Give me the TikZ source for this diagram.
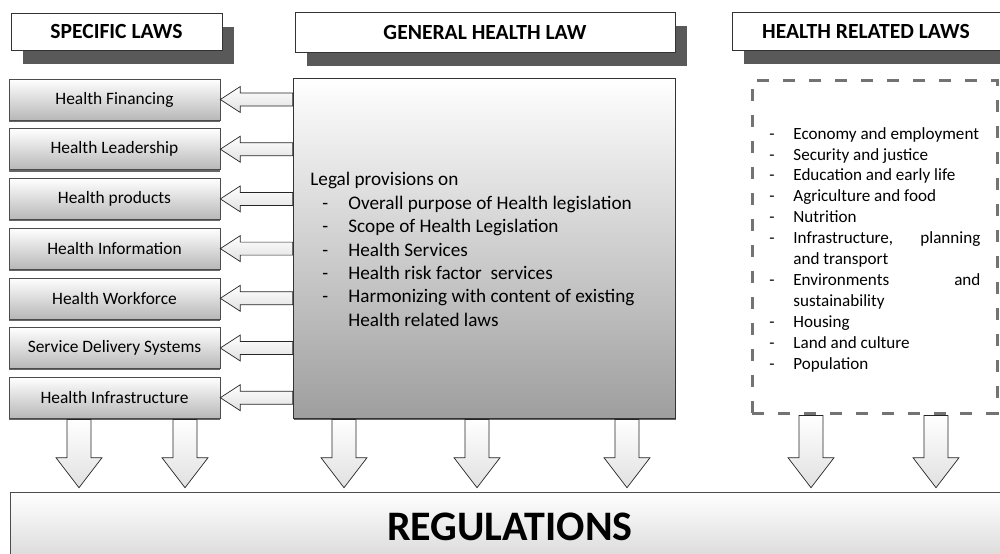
\documentclass[tikz,border=0pt]{standalone}
\usepackage{fontspec}
\setmainfont{Carlito}
\usetikzlibrary{calc}
\usetikzlibrary{shadows}

% list dashes
\newcommand{\gdash}{\makebox[19pt][l]{\hspace{6pt}-}}
\newcommand{\rdash}{\makebox[12pt][l]{-}}
% block arrow from a big box to a law box on its left
\newcommand{\leftarr}[2]{%
	\draw[blockarrow] (#2.east) -- ++(20,13) -- ++(0,-6.5) -- ($(#1.west |- #2.east)+(0,6.5)$) -- ++(0,-13) -- ($(#2.east)+(20,-6.5)$) -- ++(0,-6.5) -- cycle;}
% block arrow down to the regulations
\newcommand{\downarr}[3]{%
	\draw[blockarrow] ($(#3,0 |- #1.south)+(-12,-1)$) -- ($(#3,0 |- #2.north)+(-12,34)$) -- ++(-11,0) -- ($(#3,0 |- #2.north)+(0,4)$) -- ($(#3,0 |- #2.north)+(23,34)$) -- ++(-11,0) -- ($(#3,0 |- #1.south)+(12,-1)$) -- cycle;}

\begin{document}
\begin{tikzpicture}[x=0.5pt, y=0.5pt,
	header/.style={draw=black!80, line width=0.4pt, fill=white, inner sep=0pt,
		font=\bfseries\fontsize{10.8}{12}\selectfont,
		drop shadow={shadow xshift=5.75pt, shadow yshift=-7pt, fill=black!65, opacity=1}},
	lawbox/.style={draw=black!70, line width=0.3pt, top color=white, middle color=white, bottom color=black!28,
		minimum width=105.5pt, minimum height=20.5pt, inner sep=0pt, font=\fontsize{8.7}{10}\selectfont,
		drop shadow={shadow xshift=0pt, shadow yshift=-0.9pt, fill=black!60, opacity=1}},
	blockarrow/.style={draw=black!85, line width=0.35pt, top color=white, bottom color=black!12},
	]
	\useasboundingbox (0,0) rectangle (1000,-553);
	% headers
	\node[header, minimum width=105.5pt, minimum height=18.5pt] (specific) at (116.5,-31.5) {SPECIFIC LAWS};
	\node[header, minimum width=190pt, minimum height=20pt] (general) at (485,-32) {GENERAL HEALTH LAW};
	\node[header, minimum width=134pt, minimum height=19pt] (related) at (866,-31) {HEALTH RELATED LAWS};
	% specific laws
	\node[lawbox] (financing) at (114.5,-99.5) {Health Financing};
	\node[lawbox] (leadership) at (114.5,-149.2) {Health Leadership};
	\node[lawbox] (products) at (114.5,-198.9) {Health products};
	\node[lawbox] (information) at (114.5,-248.6) {Health Information};
	\node[lawbox] (workforce) at (114.5,-298.3) {Health Workforce};
	\node[lawbox] (delivery) at (114.5,-348) {Service Delivery Systems};
	\node[lawbox] (infrastructure) at (114.5,-397.7) {Health Infrastructure};
	% general health law
	\node[draw=black!80, line width=0.4pt, top color=white, middle color=black!10, bottom color=black!38, inner sep=0pt,
		minimum width=191pt, minimum height=170pt,
		drop shadow={shadow xshift=0.4pt, shadow yshift=-0.9pt, fill=black!60, opacity=1}] (provisions) at (484,-248) {};
	\node[anchor=west, align=left, inner sep=0pt, font=\fontsize{9.6}{11.7}\selectfont] (provlist) at (310,-249.5) {%
		Legal provisions on\\
		\gdash Overall purpose of Health legislation\\
		\gdash Scope of Health Legislation\\
		\gdash Health Services\\
		\gdash Health risk factor\ \ services\\
		\gdash Harmonizing with content of existing\\
		\hspace*{19pt}Health related laws};
	% health related laws
	\node[draw=black!55, line width=1.5pt, dash pattern=on 6pt off 7pt, inner sep=0pt,
		minimum width=122.5pt, minimum height=166.5pt] (relbox) at (874.5,-246.5) {};
	\node[anchor=west, align=left, inner sep=0pt, font=\fontsize{8.55}{10.45}\selectfont] (rellist) at (769,-249.5) {%
		\rdash Economy and employment\\
		\rdash Security and justice\\
		\rdash Education and early life\\
		\rdash Agriculture and food\\
		\rdash Nutrition\\
		\rdash\makebox[93.5pt][l]{Infrastructure,\hfill planning}\\
		\hspace*{12pt}and transport\\
		\rdash\makebox[93.5pt][l]{Environments\hfill and}\\
		\hspace*{12pt}sustainability\\
		\rdash Housing\\
		\rdash Land and culture\\
		\rdash Population};
	% regulations
	\node[draw=black!70, line width=0.3pt, top color=white, middle color=white, bottom color=black!15, inner sep=0pt,
		minimum width=500pt, minimum height=35pt, font=\bfseries\fontsize{21}{24}\selectfont] (regulations) at (510,-527) {REGULATIONS};
	% arrows to the specific laws
	\leftarr{provisions}{financing}
	\leftarr{provisions}{leadership}
	\leftarr{provisions}{products}
	\leftarr{provisions}{information}
	\leftarr{provisions}{workforce}
	\leftarr{provisions}{delivery}
	\leftarr{provisions}{infrastructure}
	% arrows to the regulations
	\downarr{infrastructure}{regulations}{79}
	\downarr{infrastructure}{regulations}{185}
	\downarr{provisions}{regulations}{344}
	\downarr{provisions}{regulations}{477}
	\downarr{provisions}{regulations}{627}
	\downarr{relbox}{regulations}{811}
	\downarr{relbox}{regulations}{936}
\end{tikzpicture}
\end{document}
